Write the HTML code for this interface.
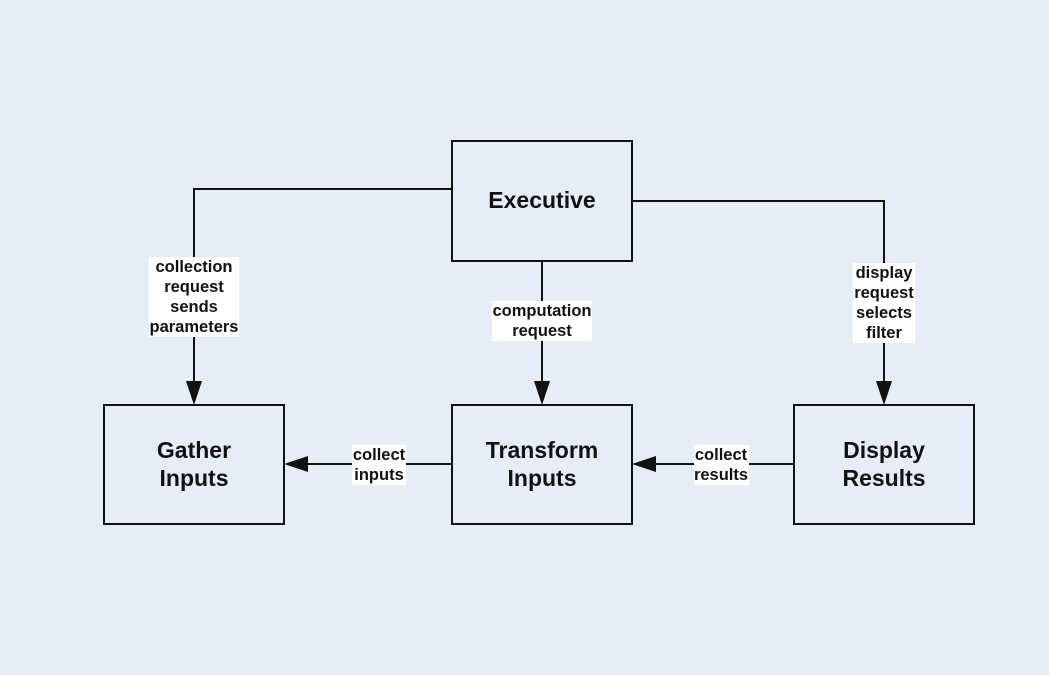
<!DOCTYPE html>
<html><head><style>
body{margin:0;background:#e6edf8;}
svg{display:block}
.t{font-family:"Liberation Sans",Arial,sans-serif;font-weight:bold;font-size:23px;fill:#111;text-anchor:middle}
.l{font-family:"Liberation Sans",Arial,sans-serif;font-weight:bold;font-size:16.5px;fill:#111;text-anchor:middle}
</style></head><body>
<svg width="1049" height="675" viewBox="0 0 1049 675">
<rect width="1049" height="675" fill="#e6edf8"/>
<g fill="none" stroke="#111" stroke-width="2">
<rect x="452" y="141" width="180" height="120"/>
<rect x="104" y="405" width="180" height="119"/>
<rect x="452" y="405" width="180" height="119"/>
<rect x="794" y="405" width="180" height="119"/>
<polyline points="452,189 194,189 194,382"/>
<polyline points="632,201 884,201 884,382"/>
<line x1="542" y1="261" x2="542" y2="382"/>
<line x1="452" y1="464" x2="306" y2="464"/>
<line x1="794" y1="464" x2="654" y2="464"/>
</g>
<g fill="#111">
<polygon points="186,381 202,381 194,405"/>
<polygon points="876,381 892,381 884,405"/>
<polygon points="534,381 550,381 542,405"/>
<polygon points="308,456 308,472 284,464"/>
<polygon points="656,456 656,472 632,464"/>
</g>
<g fill="#fff">
<rect x="149" y="257" width="90" height="80"/>
<rect x="492" y="301" width="100" height="40"/>
<rect x="853" y="263" width="62" height="80"/>
<rect x="352" y="445" width="54" height="40"/>
<rect x="694" y="445" width="55" height="40"/>
</g>
<text class="t" x="542" y="208">Executive</text>
<text class="t" x="194" y="458">Gather</text><text class="t" x="194" y="486">Inputs</text>
<text class="t" x="542" y="458">Transform</text><text class="t" x="542" y="486">Inputs</text>
<text class="t" x="884" y="458">Display</text><text class="t" x="884" y="486">Results</text>
<text class="l" x="194" y="272">collection</text><text class="l" x="194" y="292">request</text><text class="l" x="194" y="312">sends</text><text class="l" x="194" y="332">parameters</text>
<text class="l" x="542" y="316">computation</text><text class="l" x="542" y="336">request</text>
<text class="l" x="884" y="278">display</text><text class="l" x="884" y="298">request</text><text class="l" x="884" y="318">selects</text><text class="l" x="884" y="338">filter</text>
<text class="l" x="379" y="460">collect</text><text class="l" x="379" y="480">inputs</text>
<text class="l" x="721" y="460">collect</text><text class="l" x="721" y="480">results</text>
</svg>
</body></html>
